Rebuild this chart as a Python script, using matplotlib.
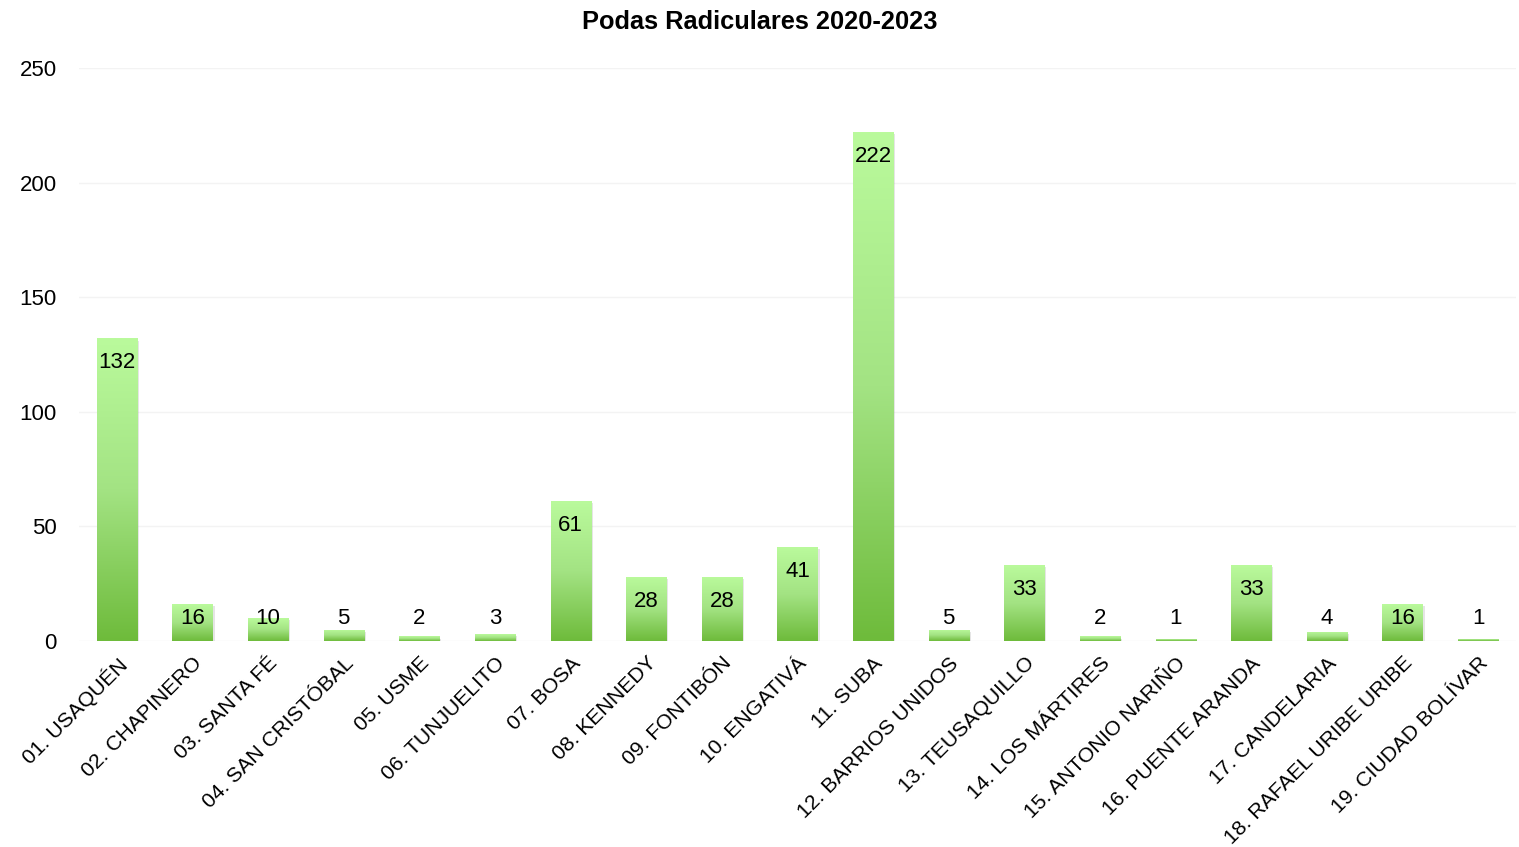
import numpy as np
import matplotlib
matplotlib.use("Agg")
import matplotlib.pyplot as plt
from matplotlib import patheffects
from matplotlib.colors import LinearSegmentedColormap

plt.rcParams['font.family'] = ['Liberation Sans', 'DejaVu Sans']

# data
localidades = [
    "01. USAQUÉN", "02. CHAPINERO", "03. SANTA FÉ", "04. SAN CRISTÓBAL",
    "05. USME", "06. TUNJUELITO", "07. BOSA", "08. KENNEDY", "09. FONTIBÓN",
    "10. ENGATIVÁ", "11. SUBA", "12. BARRIOS UNIDOS", "13. TEUSAQUILLO",
    "14. LOS MÁRTIRES", "15. ANTONIO NARIÑO", "16. PUENTE ARANDA",
    "17. CANDELARIA", "18. RAFAEL URIBE URIBE", "19. CIUDAD BOLÍVAR",
]
podas = [132, 16, 10, 5, 2, 3, 61, 28, 28, 41, 222, 5, 33, 2, 1, 33, 4, 16, 1]

fig = plt.figure(figsize=(15.19, 8.47), dpi=100)
ax = fig.add_axes([0.052, 0.2432, 0.946, 0.6765])

cmap = LinearSegmentedColormap.from_list("verde", ["#6ebb3b", "#a3e383", "#bafa9c"])
grad = np.linspace(0, 1, 256).reshape(-1, 1)

x = np.arange(len(podas))
bars = ax.bar(x, podas, width=0.53, color="#bafa9c", zorder=2,
              path_effects=[patheffects.SimplePatchShadow(offset=(1.5, -1.5), shadow_rgbFace="#aaaaaa", alpha=0.3),
                            patheffects.Normal()])

for b in bars:
    x0, h, w = b.get_x(), b.get_height(), b.get_width()
    im = ax.imshow(grad, cmap=cmap, aspect="auto", origin="lower",
                   extent=[x0, x0 + w, 0, h], zorder=3)
    im.set_clip_path(b)

for i, v in enumerate(podas):
    ax.text(i, max(v - 10.7, 10), str(v), ha="center", va="center",
            fontsize=16, color="black", zorder=4)

ax.set_xlim(-0.5, len(podas) - 0.5)
ax.set_ylim(0, 250)
ax.set_yticks([0, 50, 100, 150, 200, 250])
ax.yaxis.grid(True, color="#f3f3f3", linewidth=1)
ax.set_axisbelow(True)
for s in ax.spines.values():
    s.set_visible(False)
ax.tick_params(axis="both", length=0)
ax.tick_params(axis="y", pad=16, labelsize=16)
ax.set_xticks(x)
ax.set_xticklabels(localidades, rotation=45, ha="right", rotation_mode="anchor")
ax.tick_params(axis="x", pad=9, labelsize=15.2)

fig.suptitle("Podas Radiculares 2020-2023", fontsize=18.3, fontweight="bold", y=0.988)

fig.savefig("out.png", dpi=100)
